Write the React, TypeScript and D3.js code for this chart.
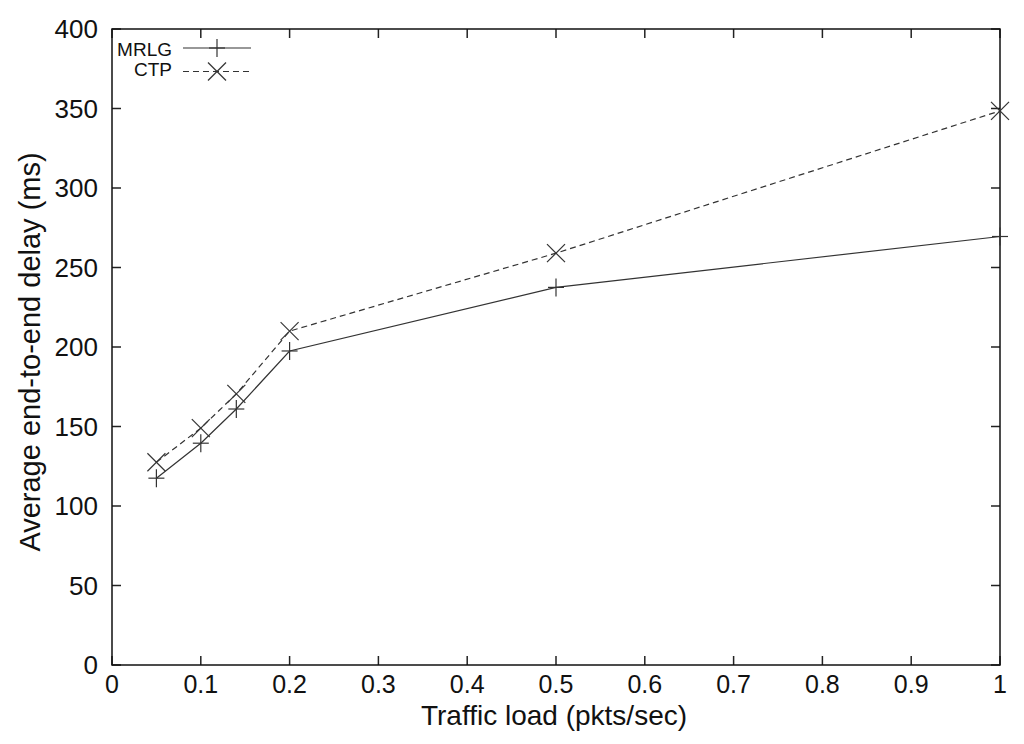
import React from "react";
import * as d3 from "d3";

const xValues = [0.05, 0.1, 0.14, 0.2, 0.5, 1.0];
const mrlg = [117.5, 139.5, 161, 197.5, 237.5, 269.5];
const ctp = [127.5, 149, 170.5, 210, 259, 348.5];
const xTicks = [0, 0.1, 0.2, 0.3, 0.4, 0.5, 0.6, 0.7, 0.8, 0.9, 1];
const yTicks = [0, 50, 100, 150, 200, 250, 300, 350, 400];
const seriesNames = ["MRLG", "CTP"];

const W = 1024, H = 744;
const L = 112, R = 1000, T = 29, B = 665;

export default function App() {
  const x = d3.scaleLinear().domain([0, 1]).range([L, R]);
  const y = d3.scaleLinear().domain([0, 400]).range([B, T]);
  const line = d3.line<number>().x((_, i) => x(xValues[i])).y((d) => y(d));
  const font = "'Liberation Sans', Arial, Helvetica, sans-serif";
  const stroke = "#333";
  const plus = (cx: number, cy: number, k: string) => (
    <g key={k} stroke={stroke} strokeWidth={1.2}>
      <line x1={cx - 8} x2={cx + 8} y1={cy} y2={cy} />
      <line x1={cx} x2={cx} y1={cy - 9} y2={cy + 9} />
    </g>
  );
  const cross = (cx: number, cy: number, k: string) => (
    <g key={k} stroke={stroke} strokeWidth={1.2}>
      <line x1={cx - 9} x2={cx + 9} y1={cy - 9} y2={cy + 9} />
      <line x1={cx - 9} x2={cx + 9} y1={cy + 9} y2={cy - 9} />
    </g>
  );
  return (
    <svg width={W} height={H} style={{ position: "absolute", left: 0, top: 0, background: "#fff" }} fontFamily={font}>
      <rect x={0} y={0} width={W} height={H} fill="#fff" />
      {yTicks.map((t) => (
        <g key={"y" + t}>
          <line x1={L} x2={L + 9} y1={y(t)} y2={y(t)} stroke="#222" strokeWidth={1.5} />
          <line x1={R} x2={R - 9} y1={y(t)} y2={y(t)} stroke="#222" strokeWidth={1.5} />
          <text x={98} y={y(t) + 9} textAnchor="end" fontSize={26} fill="#111">{t}</text>
        </g>
      ))}
      {xTicks.map((t) => (
        <g key={"x" + t}>
          <line x1={x(t)} x2={x(t)} y1={B} y2={B - 9} stroke="#222" strokeWidth={1.5} />
          <line x1={x(t)} x2={x(t)} y1={T} y2={T + 9} stroke="#222" strokeWidth={1.5} />
          <text x={x(t)} y={693} textAnchor="middle" fontSize={25} fill="#111">{t}</text>
        </g>
      ))}
      <rect x={L} y={T} width={R - L} height={B - T} fill="none" stroke="#111" strokeWidth={1.5} />
      <path d={line(mrlg) || ""} fill="none" stroke={stroke} strokeWidth={1.2} />
      <path d={line(ctp) || ""} fill="none" stroke={stroke} strokeWidth={1.2} strokeDasharray="6,4" />
      {mrlg.map((v, i) => plus(x(xValues[i]), y(v), "p" + i))}
      {ctp.map((v, i) => cross(x(xValues[i]), y(v), "c" + i))}
      <text x={172} y={56} textAnchor="end" fontSize={19} fill="#111">{seriesNames[0]}</text>
      <line x1={183} x2={251} y1={48} y2={48} stroke={stroke} strokeWidth={1.2} />
      {plus(217, 48, "lp")}
      <text x={172} y={76} textAnchor="end" fontSize={19} fill="#111">{seriesNames[1]}</text>
      <line x1={183} x2={251} y1={71.5} y2={71.5} stroke={stroke} strokeWidth={1.2} strokeDasharray="6,4" />
      {cross(217, 71.5, "lc")}
      <text x={554} y={725} textAnchor="middle" fontSize={28} fill="#111">Traffic load (pkts/sec)</text>
      <text transform={`translate(40,352) rotate(-90)`} textAnchor="middle" fontSize={29} fill="#111">Average end-to-end delay (ms)</text>
    </svg>
  );
}
